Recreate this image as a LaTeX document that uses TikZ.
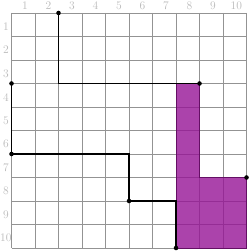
\documentclass[tikz,border=0pt]{standalone}
\begin{document}
\begin{tikzpicture}[x=1cm,y=-1cm,
  gridline/.style={draw=gray!85,line width=0.45pt},
  lbl/.style={text=gray!55,font=\fontsize{14}{14}\selectfont,inner sep=0pt},
  route/.style={draw=black,line width=1.7pt,line join=miter},
  pt/.style={circle,fill=black,inner sep=0pt,minimum size=5.5pt},
  region/.style={fill={rgb,255:red,150;green,20;blue,150},fill opacity=0.8,draw={rgb,255:red,100;green,15;blue,100},line width=0.7pt}]
\useasboundingbox (-0.49,-0.553) rectangle (10.106,10.128);
% grid
\foreach \i in {0,...,10} {
  \draw[gridline] (\i,0) -- (\i,10);
  \draw[gridline] (0,\i) -- (10,\i);
}
% purple region
\filldraw[region] (7,3) -- (8,3) -- (8,7) -- (10,7) -- (10,10) -- (7,10) -- cycle;
% labels
\foreach \i in {1,...,10} {
  \node[lbl] (t\i) at (\i-0.43,-0.3) {\i};
  \node[lbl,anchor=center] (l\i) at (-0.24,\i-0.42) {\i};
}
% points
\node[pt] (a) at (2,0) {};
\node[pt] (b) at (8,3) {};
\node[pt] (c) at (0,3) {};
\node[pt] (d) at (0,6) {};
\node[pt] (e) at (5,8) {};
\node[pt] (f) at (7,10) {};
\node[pt] (g) at (10,7) {};
\coordinate (a1) at (2,3);
\coordinate (d1) at (5,6);
\coordinate (e1) at (7,8);
% routes
\draw[route] (a.center) -- (a1) -- (b.center);
\draw[route] (c.center) -- (d.center) -- (d1) -- (e.center);
\draw[route] (e.center) -- (e1) -- (f.center);
\end{tikzpicture}
\end{document}
